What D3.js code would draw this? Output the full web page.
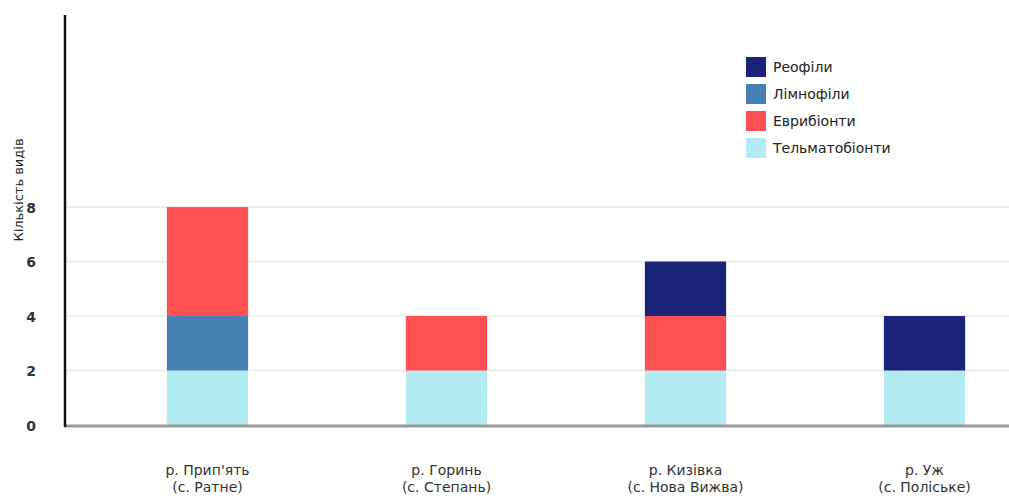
<!DOCTYPE html>
<html>
<head>
<meta charset="utf-8">
<script src="https://cdn.jsdelivr.net/npm/d3@7"></script>
<style>
  html, body { margin: 0; padding: 0; background: #fff; }
  svg { display: block; font-family: "DejaVu Sans", "Liberation Sans", Arial, sans-serif; }
</style>
</head>
<body>
<svg id="chart" width="1009" height="496"></svg>
<script>
const categories = [
  ["р. Прип'ять", "(с. Ратне)"],
  ["р. Горинь", "(с. Степань)"],
  ["р. Кизівка", "(с. Нова Вижва)"],
  ["р. Уж", "(с. Поліське)"]
];
const seriesNames = ["Тельматобіонти", "Лімнофіли", "Еврибіонти", "Реофіли"];
const telmato = [2, 2, 2, 2];
const limno   = [2, 0, 0, 0];
const evry    = [4, 2, 2, 0];
const reo     = [0, 0, 2, 2];
const yTicks  = [0, 2, 4, 6, 8];
const legendOrder = ["Реофіли", "Лімнофіли", "Еврибіонти", "Тельматобіонти"];
const colors = {
  "Реофіли": "#1b2379",
  "Лімнофіли": "#4680b2",
  "Еврибіонти": "#fe5052",
  "Тельматобіонти": "#b3ebf2"
};

const svg = d3.select("#chart");
const margin = { left: 65, top: 15, bottom: 425 };

const rows = categories.map((c, i) => ({
  key: i,
  "Тельматобіонти": telmato[i],
  "Лімнофіли": limno[i],
  "Еврибіонти": evry[i],
  "Реофіли": reo[i]
}));

const x = d3.scaleBand().domain(d3.range(categories.length)).range([88, 1044]).paddingInner(0.66).paddingOuter(0.33);
const y = d3.scaleLinear().domain([0, 15.05]).range([margin.bottom, margin.top]);

// gridlines
svg.append("g").selectAll("line").data(yTicks.filter(t => t > 0)).join("line")
  .attr("x1", margin.left).attr("x2", 1009)
  .attr("y1", d => y(d)).attr("y2", d => y(d))
  .attr("stroke", "#e8e8e8").attr("stroke-width", 1.5);

// stacked bars
const stack = d3.stack().keys(seriesNames)(rows);
svg.append("g").selectAll("g").data(stack).join("g")
  .attr("fill", d => colors[d.key])
  .selectAll("rect").data(d => d.filter(p => p[1] - p[0] > 0)).join("rect")
  .attr("x", d => x(d.data.key))
  .attr("width", x.bandwidth())
  .attr("y", d => y(d[1]))
  .attr("height", d => y(d[0]) - y(d[1]));

// x axis line
svg.append("line")
  .attr("x1", margin.left).attr("x2", 1009)
  .attr("y1", margin.bottom + 1).attr("y2", margin.bottom + 1)
  .attr("stroke", "#9a9a9a").attr("stroke-width", 3);

// y axis line
svg.append("line")
  .attr("x1", margin.left).attr("x2", margin.left)
  .attr("y1", margin.top).attr("y2", margin.bottom + 2)
  .attr("stroke", "#111").attr("stroke-width", 2.5);

// y tick labels
svg.append("g").selectAll("text").data(yTicks).join("text")
  .attr("x", 31).attr("y", d => y(d) + 1).attr("dy", "0.35em")
  .attr("text-anchor", "middle")
  .attr("font-size", 14).attr("font-weight", "bold").attr("fill", "#333")
  .text(d => d);

// y axis title
svg.append("text")
  .attr("transform", "translate(18,190) rotate(-90)")
  .attr("text-anchor", "middle").attr("dy", "0.35em")
  .attr("font-size", 13).attr("fill", "#222")
  .text("Кількість видів");

// category labels
const cat = svg.append("g").selectAll("text").data(categories).join("text")
  .attr("text-anchor", "middle")
  .attr("font-size", 14).attr("fill", "#333")
  .attr("x", (d, i) => x(i) + x.bandwidth() / 2);
cat.append("tspan").attr("y", 475).text(d => d[0]);
cat.append("tspan").attr("y", 492).attr("x", (d, i) => x(i) + x.bandwidth() / 2).text(d => d[1]);

// legend
const lg = svg.append("g").selectAll("g").data(legendOrder).join("g")
  .attr("transform", (d, i) => `translate(746,${57 + i * 27})`);
lg.append("rect").attr("width", 20).attr("height", 20).attr("fill", d => colors[d]);
lg.append("text").attr("x", 27).attr("y", 10).attr("dy", "0.35em")
  .attr("font-size", 14).attr("fill", "#222").text(d => d);
</script>
</body>
</html>
